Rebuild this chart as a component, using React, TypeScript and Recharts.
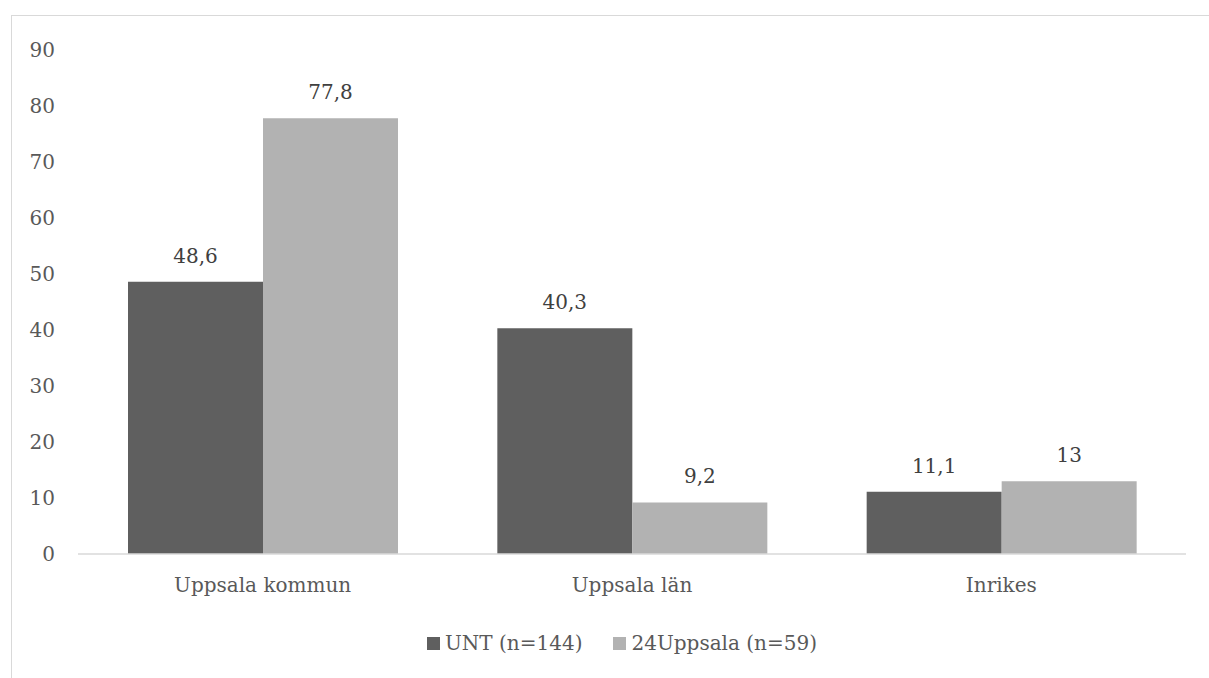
import React from 'react';
import { BarChart, Bar, XAxis, YAxis, LabelList, Legend } from 'recharts';

const categories = ['Uppsala kommun', 'Uppsala län', 'Inrikes'];
const untValues = [48.6, 40.3, 11.1];
const uppsala24Values = [77.8, 9.2, 13];
const yTicks = [0, 10, 20, 30, 40, 50, 60, 70, 80, 90];
const seriesNames = ['UNT (n=144)', '24Uppsala (n=59)'];
const seriesColors = ['#5f5f5f', '#b2b2b2'];

const data = categories.map((c, i) => ({
  name: c,
  unt: untValues[i],
  u24: uppsala24Values[i],
}));

const FONT = '"DejaVu Serif", serif';
const fmt = (v: any) => String(v).replace('.', ',');

const renderLegend = (props: any) => {
  const payload = [...(props.payload || [])].sort(
    (a: any, b: any) => seriesNames.indexOf(a.value) - seriesNames.indexOf(b.value)
  );
  return (
    <div style={{ display: 'flex', alignItems: 'center', paddingLeft: 427, fontFamily: FONT, fontSize: 20, color: '#595959', height: 30 }}>
      {payload.map((entry: any, i: number) => (
        <div key={i} style={{ display: 'flex', alignItems: 'center', marginRight: 31 }}>
          <span style={{ display: 'inline-block', width: 13, height: 13, background: entry.color, marginRight: 5 }} />
          <span>{entry.value}</span>
        </div>
      ))}
    </div>
  );
};

export default function App() {
  return (
    <div style={{ position: 'absolute', left: 0, top: 0, width: 1209, height: 678, background: '#fff', overflow: 'hidden', fontFamily: FONT }}>
      <div style={{ position: 'absolute', left: 11, top: 15, width: 1400, height: 900, borderTop: '1px solid #d9d9d9', borderLeft: '1px solid #d9d9d9' }} />
      <div style={{ position: 'absolute', left: 0, top: 0 }}>
        <BarChart width={1209} height={678} data={data} margin={{ top: 50, right: 23, left: 0, bottom: 0 }} barCategoryGap={50} barGap={0}>
          <XAxis
            dataKey="name"
            height={124}
            axisLine={{ stroke: '#d9d9d9', strokeWidth: 1.5 }}
            tickLine={false}
            tickSize={0}
            tickMargin={24}
            tick={{ fill: '#595959', fontSize: 20, fontFamily: FONT }}
            interval={0}
          />
          <YAxis
            width={78}
            domain={[0, 90]}
            ticks={yTicks}
            axisLine={false}
            tickLine={false}
            tickSize={0}
            tickMargin={23}
            tick={{ fill: '#595959', fontSize: 20, fontFamily: FONT }}
          />
          <Legend
            layout="horizontal"
            verticalAlign="middle"
            align="center"
            wrapperStyle={{ left: 0, top: 628, width: 1209, height: 30 }}
            content={renderLegend}
          />
          <Bar dataKey="unt" name={seriesNames[0]} fill={seriesColors[0]} isAnimationActive={false}>
            <LabelList dataKey="unt" position="top" offset={19} formatter={fmt} fill="#404040" fontSize={20} fontFamily={FONT} />
          </Bar>
          <Bar dataKey="u24" name={seriesNames[1]} fill={seriesColors[1]} isAnimationActive={false}>
            <LabelList dataKey="u24" position="top" offset={19} formatter={fmt} fill="#404040" fontSize={20} fontFamily={FONT} />
          </Bar>
        </BarChart>
      </div>
    </div>
  );
}
